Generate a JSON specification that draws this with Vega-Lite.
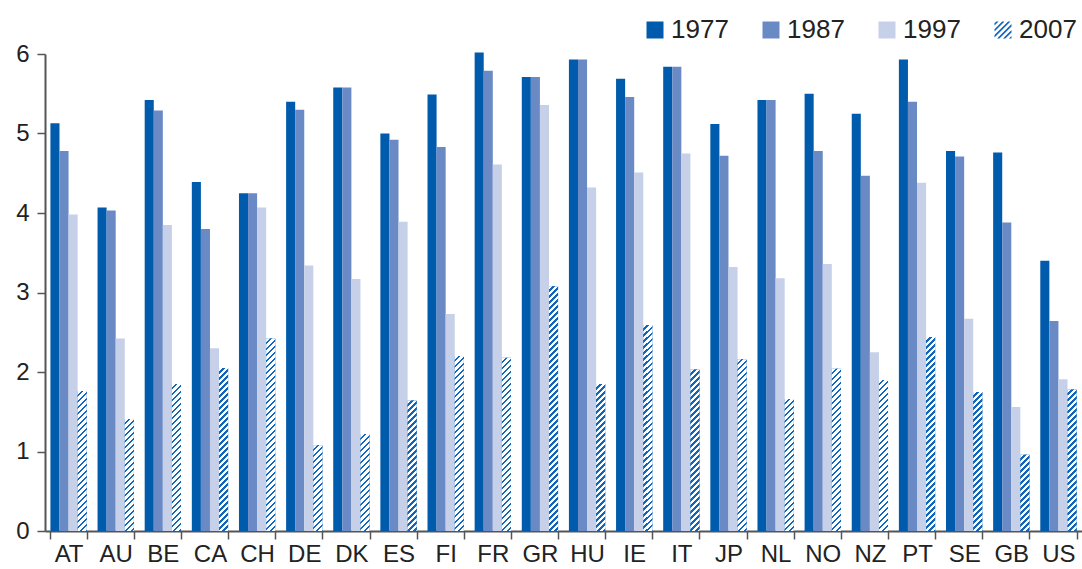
{
  "$schema": "https://vega.github.io/schema/vega-lite/v6.json",
  "autosize": {"type": "none"},
  "padding": {"left": 45, "top": 54, "right": 0, "bottom": 38},
  "width": 1037,
  "height": 477,
  "background": "#ffffff",
  "config": {
    "view": {"stroke": null},
    "font": "Liberation Sans",
    "axis": {"labelFont": "Liberation Sans", "labelColor": "#222222", "domainColor": "#555555", "tickColor": "#555555", "domainWidth": 2, "tickWidth": 1.5, "grid": false, "title": null},
    "legend": {"labelFont": "Liberation Sans"}
  },
  "params": [
    {"name": "hs", "value": [
{"offset":0,"color":"#fff"},{"offset":0.012,"color":"#fff"},{"offset":0.012,"color":"#16b"},{"offset":0.02,"color":"#16b"},
{"offset":0.02,"color":"#fff"},{"offset":0.032,"color":"#fff"},{"offset":0.032,"color":"#16b"},{"offset":0.04,"color":"#16b"},
{"offset":0.04,"color":"#fff"},{"offset":0.052,"color":"#fff"},{"offset":0.052,"color":"#16b"},{"offset":0.06,"color":"#16b"},
{"offset":0.06,"color":"#fff"},{"offset":0.072,"color":"#fff"},{"offset":0.072,"color":"#16b"},{"offset":0.08,"color":"#16b"},
{"offset":0.08,"color":"#fff"},{"offset":0.092,"color":"#fff"},{"offset":0.092,"color":"#16b"},{"offset":0.1,"color":"#16b"},
{"offset":0.1,"color":"#fff"},{"offset":0.112,"color":"#fff"},{"offset":0.112,"color":"#16b"},{"offset":0.12,"color":"#16b"},
{"offset":0.12,"color":"#fff"},{"offset":0.132,"color":"#fff"},{"offset":0.132,"color":"#16b"},{"offset":0.14,"color":"#16b"},
{"offset":0.14,"color":"#fff"},{"offset":0.152,"color":"#fff"},{"offset":0.152,"color":"#16b"},{"offset":0.16,"color":"#16b"},
{"offset":0.16,"color":"#fff"},{"offset":0.172,"color":"#fff"},{"offset":0.172,"color":"#16b"},{"offset":0.18,"color":"#16b"},
{"offset":0.18,"color":"#fff"},{"offset":0.192,"color":"#fff"},{"offset":0.192,"color":"#16b"},{"offset":0.2,"color":"#16b"},
{"offset":0.2,"color":"#fff"},{"offset":0.212,"color":"#fff"},{"offset":0.212,"color":"#16b"},{"offset":0.22,"color":"#16b"},
{"offset":0.22,"color":"#fff"},{"offset":0.232,"color":"#fff"},{"offset":0.232,"color":"#16b"},{"offset":0.24,"color":"#16b"},
{"offset":0.24,"color":"#fff"},{"offset":0.252,"color":"#fff"},{"offset":0.252,"color":"#16b"},{"offset":0.26,"color":"#16b"},
{"offset":0.26,"color":"#fff"},{"offset":0.272,"color":"#fff"},{"offset":0.272,"color":"#16b"},{"offset":0.28,"color":"#16b"},
{"offset":0.28,"color":"#fff"},{"offset":0.292,"color":"#fff"},{"offset":0.292,"color":"#16b"},{"offset":0.3,"color":"#16b"},
{"offset":0.3,"color":"#fff"},{"offset":0.312,"color":"#fff"},{"offset":0.312,"color":"#16b"},{"offset":0.32,"color":"#16b"},
{"offset":0.32,"color":"#fff"},{"offset":0.332,"color":"#fff"},{"offset":0.332,"color":"#16b"},{"offset":0.34,"color":"#16b"},
{"offset":0.34,"color":"#fff"},{"offset":0.352,"color":"#fff"},{"offset":0.352,"color":"#16b"},{"offset":0.36,"color":"#16b"},
{"offset":0.36,"color":"#fff"},{"offset":0.372,"color":"#fff"},{"offset":0.372,"color":"#16b"},{"offset":0.38,"color":"#16b"},
{"offset":0.38,"color":"#fff"},{"offset":0.392,"color":"#fff"},{"offset":0.392,"color":"#16b"},{"offset":0.4,"color":"#16b"},
{"offset":0.4,"color":"#fff"},{"offset":0.412,"color":"#fff"},{"offset":0.412,"color":"#16b"},{"offset":0.42,"color":"#16b"},
{"offset":0.42,"color":"#fff"},{"offset":0.432,"color":"#fff"},{"offset":0.432,"color":"#16b"},{"offset":0.44,"color":"#16b"},
{"offset":0.44,"color":"#fff"},{"offset":0.452,"color":"#fff"},{"offset":0.452,"color":"#16b"},{"offset":0.46,"color":"#16b"},
{"offset":0.46,"color":"#fff"},{"offset":0.472,"color":"#fff"},{"offset":0.472,"color":"#16b"},{"offset":0.48,"color":"#16b"},
{"offset":0.48,"color":"#fff"},{"offset":0.492,"color":"#fff"},{"offset":0.492,"color":"#16b"},{"offset":0.5,"color":"#16b"},
{"offset":0.5,"color":"#fff"},{"offset":0.512,"color":"#fff"},{"offset":0.512,"color":"#16b"},{"offset":0.52,"color":"#16b"},
{"offset":0.52,"color":"#fff"},{"offset":0.532,"color":"#fff"},{"offset":0.532,"color":"#16b"},{"offset":0.54,"color":"#16b"},
{"offset":0.54,"color":"#fff"},{"offset":0.552,"color":"#fff"},{"offset":0.552,"color":"#16b"},{"offset":0.56,"color":"#16b"},
{"offset":0.56,"color":"#fff"},{"offset":0.572,"color":"#fff"},{"offset":0.572,"color":"#16b"},{"offset":0.58,"color":"#16b"},
{"offset":0.58,"color":"#fff"},{"offset":0.592,"color":"#fff"},{"offset":0.592,"color":"#16b"},{"offset":0.6,"color":"#16b"},
{"offset":0.6,"color":"#fff"},{"offset":0.612,"color":"#fff"},{"offset":0.612,"color":"#16b"},{"offset":0.62,"color":"#16b"},
{"offset":0.62,"color":"#fff"},{"offset":0.632,"color":"#fff"},{"offset":0.632,"color":"#16b"},{"offset":0.64,"color":"#16b"},
{"offset":0.64,"color":"#fff"},{"offset":0.652,"color":"#fff"},{"offset":0.652,"color":"#16b"},{"offset":0.66,"color":"#16b"},
{"offset":0.66,"color":"#fff"},{"offset":0.672,"color":"#fff"},{"offset":0.672,"color":"#16b"},{"offset":0.68,"color":"#16b"},
{"offset":0.68,"color":"#fff"},{"offset":0.692,"color":"#fff"},{"offset":0.692,"color":"#16b"},{"offset":0.7,"color":"#16b"},
{"offset":0.7,"color":"#fff"},{"offset":0.712,"color":"#fff"},{"offset":0.712,"color":"#16b"},{"offset":0.72,"color":"#16b"},
{"offset":0.72,"color":"#fff"},{"offset":0.732,"color":"#fff"},{"offset":0.732,"color":"#16b"},{"offset":0.74,"color":"#16b"},
{"offset":0.74,"color":"#fff"},{"offset":0.752,"color":"#fff"},{"offset":0.752,"color":"#16b"},{"offset":0.76,"color":"#16b"},
{"offset":0.76,"color":"#fff"},{"offset":0.772,"color":"#fff"},{"offset":0.772,"color":"#16b"},{"offset":0.78,"color":"#16b"},
{"offset":0.78,"color":"#fff"},{"offset":0.792,"color":"#fff"},{"offset":0.792,"color":"#16b"},{"offset":0.8,"color":"#16b"},
{"offset":0.8,"color":"#fff"},{"offset":0.812,"color":"#fff"},{"offset":0.812,"color":"#16b"},{"offset":0.82,"color":"#16b"},
{"offset":0.82,"color":"#fff"},{"offset":0.832,"color":"#fff"},{"offset":0.832,"color":"#16b"},{"offset":0.84,"color":"#16b"},
{"offset":0.84,"color":"#fff"},{"offset":0.852,"color":"#fff"},{"offset":0.852,"color":"#16b"},{"offset":0.86,"color":"#16b"},
{"offset":0.86,"color":"#fff"},{"offset":0.872,"color":"#fff"},{"offset":0.872,"color":"#16b"},{"offset":0.88,"color":"#16b"},
{"offset":0.88,"color":"#fff"},{"offset":0.892,"color":"#fff"},{"offset":0.892,"color":"#16b"},{"offset":0.9,"color":"#16b"},
{"offset":0.9,"color":"#fff"},{"offset":0.912,"color":"#fff"},{"offset":0.912,"color":"#16b"},{"offset":0.92,"color":"#16b"},
{"offset":0.92,"color":"#fff"},{"offset":0.932,"color":"#fff"},{"offset":0.932,"color":"#16b"},{"offset":0.94,"color":"#16b"},
{"offset":0.94,"color":"#fff"},{"offset":0.952,"color":"#fff"},{"offset":0.952,"color":"#16b"},{"offset":0.96,"color":"#16b"},
{"offset":0.96,"color":"#fff"},{"offset":0.972,"color":"#fff"},{"offset":0.972,"color":"#16b"},{"offset":0.98,"color":"#16b"},
{"offset":0.98,"color":"#fff"},{"offset":0.992,"color":"#fff"},{"offset":0.992,"color":"#16b"},{"offset":1,"color":"#16b"}
    ]}
  ],
  "data": {"values": [
    {"c":"AT","y":"1977","v":5.13},{"c":"AT","y":"1987","v":4.78},{"c":"AT","y":"1997","v":3.98},{"c":"AT","y":"2007","v":1.76},
    {"c":"AU","y":"1977","v":4.07},{"c":"AU","y":"1987","v":4.03},{"c":"AU","y":"1997","v":2.42},{"c":"AU","y":"2007","v":1.41},
    {"c":"BE","y":"1977","v":5.42},{"c":"BE","y":"1987","v":5.29},{"c":"BE","y":"1997","v":3.85},{"c":"BE","y":"2007","v":1.85},
    {"c":"CA","y":"1977","v":4.39},{"c":"CA","y":"1987","v":3.80},{"c":"CA","y":"1997","v":2.30},{"c":"CA","y":"2007","v":2.05},
    {"c":"CH","y":"1977","v":4.25},{"c":"CH","y":"1987","v":4.25},{"c":"CH","y":"1997","v":4.07},{"c":"CH","y":"2007","v":2.42},
    {"c":"DE","y":"1977","v":5.40},{"c":"DE","y":"1987","v":5.30},{"c":"DE","y":"1997","v":3.34},{"c":"DE","y":"2007","v":1.08},
    {"c":"DK","y":"1977","v":5.58},{"c":"DK","y":"1987","v":5.58},{"c":"DK","y":"1997","v":3.17},{"c":"DK","y":"2007","v":1.22},
    {"c":"ES","y":"1977","v":5.00},{"c":"ES","y":"1987","v":4.92},{"c":"ES","y":"1997","v":3.89},{"c":"ES","y":"2007","v":1.64},
    {"c":"FI","y":"1977","v":5.49},{"c":"FI","y":"1987","v":4.83},{"c":"FI","y":"1997","v":2.73},{"c":"FI","y":"2007","v":2.20},
    {"c":"FR","y":"1977","v":6.02},{"c":"FR","y":"1987","v":5.79},{"c":"FR","y":"1997","v":4.61},{"c":"FR","y":"2007","v":2.18},
    {"c":"GR","y":"1977","v":5.71},{"c":"GR","y":"1987","v":5.71},{"c":"GR","y":"1997","v":5.36},{"c":"GR","y":"2007","v":3.08},
    {"c":"HU","y":"1977","v":5.93},{"c":"HU","y":"1987","v":5.93},{"c":"HU","y":"1997","v":4.32},{"c":"HU","y":"2007","v":1.85},
    {"c":"IE","y":"1977","v":5.69},{"c":"IE","y":"1987","v":5.46},{"c":"IE","y":"1997","v":4.51},{"c":"IE","y":"2007","v":2.59},
    {"c":"IT","y":"1977","v":5.84},{"c":"IT","y":"1987","v":5.84},{"c":"IT","y":"1997","v":4.75},{"c":"IT","y":"2007","v":2.03},
    {"c":"JP","y":"1977","v":5.12},{"c":"JP","y":"1987","v":4.72},{"c":"JP","y":"1997","v":3.32},{"c":"JP","y":"2007","v":2.16},
    {"c":"NL","y":"1977","v":5.42},{"c":"NL","y":"1987","v":5.42},{"c":"NL","y":"1997","v":3.18},{"c":"NL","y":"2007","v":1.66},
    {"c":"NO","y":"1977","v":5.50},{"c":"NO","y":"1987","v":4.78},{"c":"NO","y":"1997","v":3.36},{"c":"NO","y":"2007","v":2.04},
    {"c":"NZ","y":"1977","v":5.25},{"c":"NZ","y":"1987","v":4.47},{"c":"NZ","y":"1997","v":2.25},{"c":"NZ","y":"2007","v":1.90},
    {"c":"PT","y":"1977","v":5.93},{"c":"PT","y":"1987","v":5.40},{"c":"PT","y":"1997","v":4.38},{"c":"PT","y":"2007","v":2.44},
    {"c":"SE","y":"1977","v":4.78},{"c":"SE","y":"1987","v":4.71},{"c":"SE","y":"1997","v":2.67},{"c":"SE","y":"2007","v":1.75},
    {"c":"GB","y":"1977","v":4.76},{"c":"GB","y":"1987","v":3.88},{"c":"GB","y":"1997","v":1.56},{"c":"GB","y":"2007","v":0.96},
    {"c":"US","y":"1977","v":3.40},{"c":"US","y":"1987","v":2.64},{"c":"US","y":"1997","v":1.91},{"c":"US","y":"2007","v":1.78}
  ]},
  "encoding": {
    "x": {"field": "c", "type": "nominal", "sort": null,
      "scale": {"paddingInner": 0.23, "paddingOuter": 0.115},
      "axis": {"labelAngle": 0, "tickBand": "extent", "tickSize": 8, "labelFontSize": 24, "labelPadding": 3}},
    "xOffset": {"field": "y", "type": "nominal", "scale": {"domain": ["1977","1987","1997","2007"]}},
    "y": {"field": "v", "type": "quantitative",
      "scale": {"domain": [0, 6], "nice": false, "clamp": false},
      "axis": {"values": [0,1,2,3,4,5,6], "tickSize": 8, "labelFontSize": 24, "labelPadding": 8}}
  },
  "layer": [
    {
      "mark": {"type": "bar"},
      "encoding": {
        "color": {"field": "y", "type": "nominal",
          "scale": {"domain": ["1977","1987","1997","2007"], "range": ["#005bac","#6a8ac6","#c6d0e8","#1166bb"]},
          "legend": {
            "title": null, "orient": "none", "legendX": 597, "legendY": -37,
            "direction": "horizontal", "columns": 4,
            "symbolSize": 289, "symbolStrokeWidth": 0, "symbolOpacity": 1,
            "labelFontSize": 26, "labelColor": "#222222", "labelOffset": 3, "columnPadding": 29
          }}
      }
    },
    {
      "transform": [
        {"filter": "datum.y === '2007'"},
        {"calculate": "{gradient:'linear',x1:0,y1:0,x2:9*300/(81+pow(datum.v*79.5,2)),y2:datum.v*79.5*300/(81+pow(datum.v*79.5,2)),stops:hs}", "as": "g"}
      ],
      "mark": {"type": "bar"},
      "encoding": {
        "fill": {"field": "g", "type": "nominal", "scale": null}
      }
    },
    {
      "transform": [{"filter": "false"}],
      "mark": {"type": "point", "filled": true},
      "encoding": {
        "color": {"field": "y", "type": "nominal",
          "legend": {
            "title": null, "orient": "none", "legendX": 597, "legendY": -37,
            "direction": "horizontal", "columns": 4,
            "symbolSize": 289, "symbolStrokeWidth": 0, "symbolOpacity": 1,
            "labelFontSize": 26, "labelColor": "#222222", "labelOffset": 3, "columnPadding": 29
          }},
        "shape": {"field": "y", "type": "nominal",
          "scale": {"domain": ["1977","1987","1997","2007"], "range": ["square","square","square",
            "M-0.8,-1L-0.52,-1L-1,-0.52L-1,-0.8ZM-0.1,-1L0.18,-1L-1,0.18L-1,-0.1ZM0.6,-1L0.88,-1L-1,0.88L-1,0.6ZM1,-0.7L1,-0.42L-0.42,1L-0.7,1ZM1,0L1,0.28L0.28,1L0,1ZM1,0.7L1,0.98L0.98,1L0.7,1Z"]},
          "legend": {
            "title": null, "orient": "none", "legendX": 597, "legendY": -37,
            "direction": "horizontal", "columns": 4,
            "symbolSize": 289, "symbolStrokeWidth": 0, "symbolOpacity": 1,
            "labelFontSize": 26, "labelColor": "#222222", "labelOffset": 3, "columnPadding": 29
          }}
      }
    }
  ]
}
